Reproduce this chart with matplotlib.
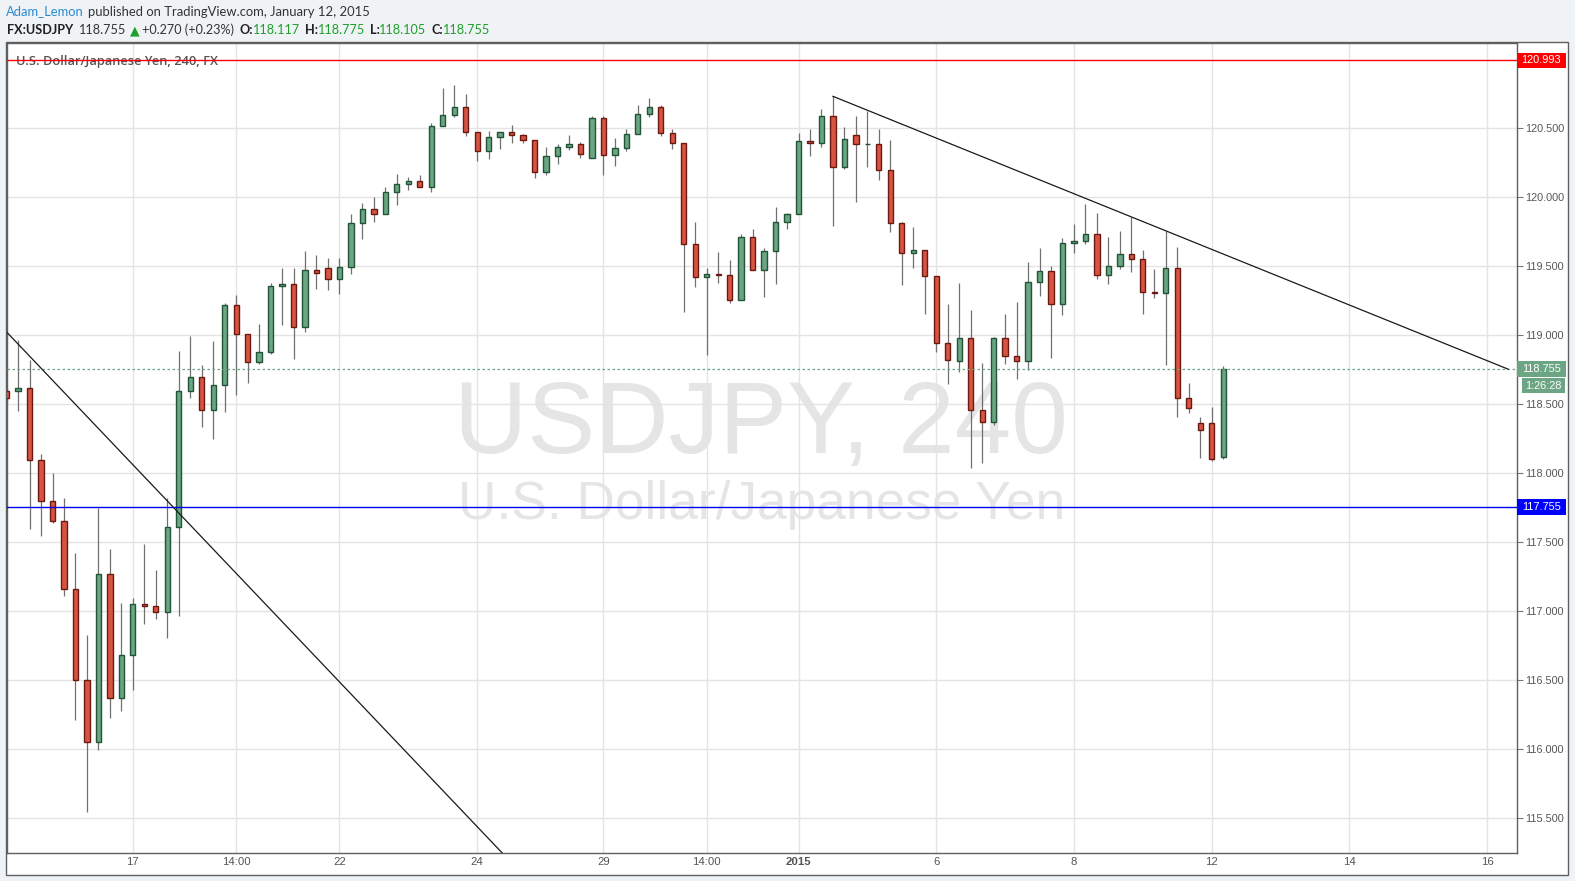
import matplotlib
matplotlib.use('Agg')
import matplotlib.pyplot as plt
from matplotlib.patches import Rectangle
from matplotlib import font_manager
import numpy as np

# ---------------- data (USDJPY, 4h candles) ----------------
opens = [118.598, 118.596, 118.618, 118.095, 117.797, 117.652, 117.165, 116.504, 116.053, 117.274,
         116.373, 116.685, 117.056, 117.041, 116.998, 117.608, 118.598, 118.698, 118.458, 118.638,
         119.217, 119.007, 118.804, 118.877, 119.355, 119.369, 119.063, 119.471, 119.485, 119.406,
         119.493, 119.811, 119.913, 119.877, 120.036, 120.094, 120.116, 120.072, 120.514, 120.594,
         120.652, 120.471, 120.333, 120.435, 120.471, 120.449, 120.413, 120.181, 120.297, 120.362,
         120.384, 120.282, 120.572, 120.304, 120.355, 120.456, 120.601, 120.652, 120.464, 120.391,
         119.659, 119.420, 119.442, 119.435, 119.253, 119.710, 119.471, 119.608, 119.819, 119.877,
         120.406, 120.391, 120.587, 120.217, 120.449, 120.384, 120.384, 120.195, 119.811, 119.594,
         119.616, 119.427, 118.942, 118.816, 118.983, 118.461, 118.374, 118.983, 118.852, 118.816,
         119.389, 119.468, 119.229, 119.671, 119.686, 119.736, 119.439, 119.505, 119.592, 119.555,
         119.316, 119.309, 119.490, 118.548, 118.367, 118.367, 118.117]
highs = [118.620, 118.969, 118.823, 118.138, 118.000, 117.819, 117.426, 116.826, 117.751, 117.455,
         117.063, 117.099, 117.487, 117.298, 117.819, 118.889, 118.993, 118.787, 118.961, 119.232,
         119.292, 119.010, 119.082, 119.379, 119.488, 119.488, 119.611, 119.582, 119.560, 119.560,
         119.879, 119.956, 120.000, 120.072, 120.166, 120.145, 120.159, 120.536, 120.792, 120.814,
         120.749, 120.476, 120.478, 120.471, 120.524, 120.456, 120.413, 120.364, 120.386, 120.451,
         120.398, 120.589, 120.589, 120.427, 120.493, 120.669, 120.720, 120.669, 120.493, 120.391,
         119.821, 119.485, 119.604, 119.546, 119.732, 119.768, 119.630, 119.930, 119.884, 120.464,
         120.493, 120.637, 120.732, 120.507, 120.589, 120.623, 120.493, 120.413, 119.819, 119.782,
         119.616, 119.427, 119.224, 119.377, 119.181, 118.797, 118.990, 119.152, 119.239, 119.529,
         119.630, 119.505, 119.703, 119.804, 119.949, 119.884, 119.710, 119.753, 119.855, 119.616,
         119.480, 119.753, 119.637, 118.652, 118.410, 118.483, 118.775]
lows = [118.520, 118.455, 117.596, 117.547, 117.642, 117.112, 116.211, 115.543, 115.993, 116.225,
        116.276, 116.431, 116.908, 116.945, 116.806, 116.966, 118.543, 118.339, 118.247, 118.447,
        118.570, 118.657, 118.795, 118.867, 119.077, 118.831, 119.026, 119.338, 119.328, 119.302,
        119.447, 119.700, 119.823, 119.877, 119.947, 120.050, 120.072, 120.041, 120.514, 120.579,
        120.442, 120.265, 120.280, 120.352, 120.396, 120.396, 120.142, 120.164, 120.244, 120.340,
        120.287, 120.282, 120.164, 120.229, 120.338, 120.456, 120.579, 120.447, 120.352, 119.171,
        119.352, 118.855, 119.381, 119.236, 119.253, 119.471, 119.280, 119.374, 119.773, 119.877,
        120.302, 120.367, 119.794, 120.203, 119.968, 120.222, 120.123, 119.746, 119.362, 119.485,
        119.152, 118.877, 118.645, 118.734, 118.038, 118.075, 118.352, 118.792, 118.683, 118.751,
        119.285, 118.835, 119.147, 119.599, 119.664, 119.408, 119.372, 119.483, 119.459, 119.154,
        119.273, 118.785, 118.408, 118.439, 118.111, 118.092, 118.105]
closes = [118.545, 118.618, 118.095, 117.797, 117.652, 117.165, 116.504, 116.053, 117.274, 116.373,
          116.685, 117.056, 117.041, 116.998, 117.608, 118.598, 118.698, 118.458, 118.639, 119.217,
          119.007, 118.804, 118.877, 119.355, 119.369, 119.063, 119.471, 119.449, 119.406, 119.493,
          119.811, 119.913, 119.877, 120.036, 120.094, 120.116, 120.072, 120.514, 120.594, 120.652,
          120.471, 120.333, 120.435, 120.471, 120.449, 120.413, 120.181, 120.297, 120.362, 120.384,
          120.311, 120.572, 120.304, 120.355, 120.456, 120.601, 120.652, 120.464, 120.391, 119.659,
          119.420, 119.442, 119.435, 119.253, 119.710, 119.471, 119.608, 119.819, 119.877, 120.406,
          120.391, 120.587, 120.217, 120.420, 120.384, 120.386, 120.195, 119.811, 119.594, 119.616,
          119.427, 118.942, 118.819, 118.983, 118.461, 118.374, 118.983, 118.852, 118.816, 119.389,
          119.468, 119.229, 119.671, 119.686, 119.736, 119.439, 119.505, 119.592, 119.555, 119.316,
          119.309, 119.490, 118.548, 118.476, 118.316, 118.106, 118.755]

date_tick_pos = [11, 20, 29, 41, 52, 61, 69, 81, 93, 105, 117, 129]
date_tick_labels = ["17", "14:00", "22", "24", "29", "14:00", "2015", "6", "8", "12", "14", "16"]
price_ticks = [115.5, 116.0, 116.5, 117.0, 117.5, 118.0, 118.5, 119.0, 119.5, 120.0, 120.5]

resistance_level = 120.993
support_level = 117.755
last_price = 118.755
countdown = "1:26:28"

trend1_x = [0.06, 22.08]
trend1_y = [119.019, 117.094]
trend2_x = [72.0, 130.83]
trend2_y = [120.732, 118.755]

# ---------------- figure ----------------
W, H = 1575, 881
fig = plt.figure(figsize=(W / 100, H / 100), dpi=100)
fig.patch.set_facecolor('#F0F3F6')
renderer = fig.canvas.get_renderer()

names = {f.name for f in font_manager.fontManager.ttflist}
AX_FONT = 'Liberation Sans'
NARROW = 'Liberation Sans Narrow' if 'Liberation Sans Narrow' in names else 'Liberation Sans'
HDR = ['Lato', 'DejaVu Sans']

# outer chart frame (white)
frame = Rectangle((6 / W, 1 - 875 / H), (1568 - 6) / W, (875 - 42) / H,
                  transform=fig.transFigure, facecolor='white', edgecolor='#5f5f5f',
                  linewidth=1.0, zorder=-1)
fig.add_artist(frame)

L, R, T, B = 6.5, 1516.5, 42.5, 853.0
ax = fig.add_axes([L / W, 1 - B / H, (R - L) / W, (B - T) / H])
ax.set_facecolor('white')
ax.set_xlim(-0.01, 131.56)
ax.set_ylim(115.249, 121.122)
for s in ax.spines.values():
    s.set_color('#5f5f5f')
    s.set_linewidth(1.0)

ax.set_axisbelow(True)
ax.yaxis.tick_right()
ax.set_yticks(price_ticks)
ax.set_yticklabels([f"{v:.3f}" for v in price_ticks])
ax.set_xticks(date_tick_pos)
ax.set_xticklabels(date_tick_labels)
ax.tick_params(axis='y', direction='out', length=4, width=0.8, color='#777777',
               labelsize=7.8, labelcolor='#555555', pad=2)
ax.tick_params(axis='x', length=0, labelsize=8.2, labelcolor='#555555', pad=3)
for lab in ax.get_yticklabels():
    lab.set_family(AX_FONT)
for lab in ax.get_xticklabels():
    lab.set_family(NARROW)
    if lab.get_text() == '2015':
        lab.set_fontweight('bold')
ax.grid(True, color='#E4E4E4', linewidth=1.0)

# watermark
wm1 = ax.text(0, 0, "USDJPY, 240", transform=fig.transFigure, fontsize=70,
              family=AX_FONT, color='#D0D0D0', alpha=0.55, ha='left', va='baseline', zorder=0.3)
wm2 = ax.text(0, 0, "U.S. Dollar/Japanese Yen", transform=fig.transFigure, fontsize=34,
              family=AX_FONT, color='#D0D0D0', alpha=0.55, ha='left', va='baseline', zorder=0.3)


def fit(t, target_w):
    w = t.get_window_extent(renderer).width
    t.set_fontsize(t.get_fontsize() * target_w / w)


fit(wm1, 614)
fit(wm2, 607)
wm1.set_position((454 / W, 1 - 453 / H))
wm2.set_position((458 / W, 1 - 519 / H))

# candles
x = np.arange(len(opens))
o = np.array(opens); c = np.array(closes); h = np.array(highs); lo = np.array(lows)
up = c >= o
ax.vlines(x, lo, h, color='#707070', linewidth=0.9, zorder=2)
body_bottom = np.minimum(o, c)
body_h = np.maximum(np.abs(c - o), 0.002)
ax.bar(x[up], body_h[up], bottom=body_bottom[up], width=0.46, color='#6BA583',
       edgecolor='#225437', linewidth=1.0, zorder=3)
ax.bar(x[~up], body_h[~up], bottom=body_bottom[~up], width=0.46, color='#D75442',
       edgecolor='#6B1A12', linewidth=1.0, zorder=3)

# horizontal levels
ax.axhline(resistance_level, color='#FF0000', linewidth=1.0, zorder=4)
ax.axhline(support_level, color='#0000EE', linewidth=1.0, zorder=4)
ax.axhline(last_price, color='#6BA583', linewidth=0.9, linestyle=(0, (2, 2)), zorder=4)

# trend lines
k1 = (trend1_y[1] - trend1_y[0]) / (trend1_x[1] - trend1_x[0])
ext_x = np.array([-1.0, 60.0])
ax.plot(ext_x, trend1_y[0] + k1 * (ext_x - trend1_x[0]), color='#1a1a1a', linewidth=0.9, zorder=5)
ax.plot(trend2_x, trend2_y, color='#1a1a1a', linewidth=0.9, zorder=5)

# symbol title inside chart
ttl = ax.text(0, 0, "U.S. Dollar/Japanese Yen, 240, FX", transform=fig.transFigure,
              fontsize=9, family=['Open Sans', 'DejaVu Sans'], fontweight='semibold',
              color='#555555', ha='left', va='center', zorder=3)
fit(ttl, 202)
ttl.set_position((16 / W, 1 - 61 / H))


# price axis label boxes
def ypix(p):
    return ax.transData.transform((0, p))[1]  # display px from bottom


def price_box(p, text, color, x0=1516.7, x1=1566.0, hh=15.5, dy=0.0):
    yc = ypix(p) - dy
    fig.add_artist(Rectangle((x0 / W, (yc - hh / 2) / H), (x1 - x0) / W, hh / H,
                             transform=fig.transFigure, facecolor=color, edgecolor='none', zorder=6))
    fig.text((x0 + x1) / 2 / W, yc / H, text, color='white', fontsize=7.9, family=AX_FONT,
             ha='center', va='center', zorder=7)


price_box(resistance_level, f"{resistance_level:.3f}", '#FF0000')
price_box(support_level, f"{support_level:.3f}", '#0000FF')
price_box(last_price, f"{last_price:.3f}", '#6BA583')
price_box(last_price, countdown, '#6BA583', x0=1522.3, x1=1565.0, hh=14.5, dy=16.5)


# header (runs of differently styled text, fitted to the reference width)
def runs(items, x0, y, size, target_w):
    def layout(sz):
        xx = x0
        made = []
        for item in items:
            if isinstance(item, (int, float)):
                xx += item * sz / 10.0
                continue
            s, col, wt = item
            t = fig.text(xx / W, 1 - y / H, s, color=col, fontsize=sz, fontweight=wt,
                         family=HDR, ha='left', va='center')
            made.append(t)
            xx += t.get_window_extent(renderer).width
        return xx - x0, made

    w, made = layout(size)
    for t in made:
        t.remove()
    layout(size * target_w / w)


DARK = '#333333'
GREEN = '#1E9E2A'
line1 = [("Adam_Lemon", '#2B8BD0', 'normal'), 4, ("published on TradingView.com, January 12, 2015", DARK, 'normal')]
runs(line1, 6, 11.5, 10.0, 365)
line2 = [("FX:USDJPY", '#222222', 'bold'), 6, ("118.755", DARK, 'normal'), 4,
         ("\u25B2", '#1E9E2A', 'normal'), 3, ("+0.270 (+0.23%)", DARK, 'normal'), 6,
         ("O:", '#222222', 'bold'), ("118.117", GREEN, 'normal'), 5,
         ("H:", '#222222', 'bold'), ("118.775", GREEN, 'normal'), 5,
         ("L:", '#222222', 'bold'), ("118.105", GREEN, 'normal'), 5,
         ("C:", '#222222', 'bold'), ("118.755", GREEN, 'normal')]
runs(line2, 7, 30, 9.4, 480)

fig.savefig('out.png', dpi=100, facecolor=fig.get_facecolor())
